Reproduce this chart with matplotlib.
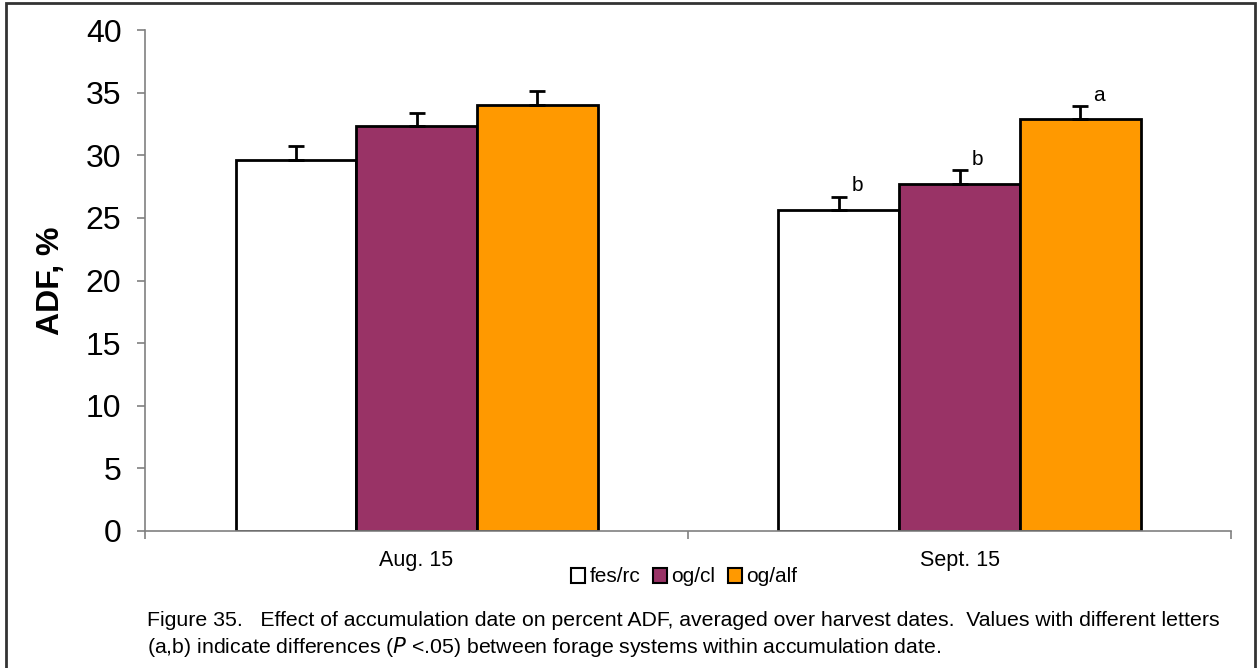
import matplotlib.pyplot as plt
import matplotlib.patches as mpatches
import numpy as np

plt.rcParams['font.family'] = ['Liberation Sans', 'DejaVu Sans']

# data
dates = ['Aug. 15', 'Sept. 15']
systems = ['fes/rc', 'og/cl', 'og/alf']
colors = ['#ffffff', '#993366', '#ff9900']
adf = {
    'fes/rc': [29.6, 25.6],
    'og/cl': [32.3, 27.7],
    'og/alf': [34.0, 32.9],
}
se = {
    'fes/rc': [1.1, 1.1],
    'og/cl': [1.1, 1.1],
    'og/alf': [1.1, 1.0],
}
letters = {
    'fes/rc': ['', 'b'],
    'og/cl': ['', 'b'],
    'og/alf': ['', 'a'],
}

fig = plt.figure(figsize=(12.58, 6.68), dpi=100)
ax = fig.add_axes([145/1258, 1 - 531/668, (1231 - 145)/1258, (531 - 30)/668])

x = np.arange(len(dates)) + 0.5
w = 2/9
for i, s in enumerate(systems):
    xs = x + (i - 1)*w
    ax.bar(xs, adf[s], w, color=colors[i], edgecolor='black', linewidth=2, zorder=2)
    ax.errorbar(xs, adf[s], yerr=[np.zeros(len(xs)), se[s]], fmt='none',
                ecolor='black', elinewidth=2, capsize=6, capthick=2, zorder=3)
    for j in range(len(xs)):
        if letters[s][j]:
            ax.annotate(letters[s][j], (xs[j], adf[s][j] + se[s][j]),
                        xytext=(9, 1), textcoords='offset points',
                        fontsize=15, ha='left', va='bottom')

ax.set_xlim(0, 2)
ax.set_ylim(0, 40)
ax.set_yticks(np.arange(0, 41, 5))
ax.tick_params(axis='y', labelsize=23, length=6, width=1.2, color='#808080', pad=11)
ax.set_xticks([0, 1, 2])
ax.set_xticklabels([])
ax.set_xticks(x, minor=True)
ax.set_xticklabels(dates, minor=True, fontsize=15.5)
ax.tick_params(axis='x', which='major', length=6, width=1.2, color='#808080')
ax.tick_params(axis='x', which='minor', length=0, pad=14)
for side in ['top', 'right']:
    ax.spines[side].set_visible(False)
for side in ['left', 'bottom']:
    ax.spines[side].set_color('#808080')
    ax.spines[side].set_linewidth(1.2)
ax.set_ylabel('ADF, %', fontsize=23, fontweight='bold', labelpad=14)

handles = [mpatches.Patch(facecolor=c, edgecolor='black', linewidth=1.5) for c in colors]
fig.legend(handles, systems, loc='center', bbox_to_anchor=(684/1258, 1 - 577/668),
           ncol=3, frameon=False, fontsize=15, handlelength=0.7, handleheight=0.7,
           handletextpad=0.2, columnspacing=0.6)

fig.text(147/1258, 1 - 620/668,
         'Figure 35.   Effect of accumulation date on percent ADF, averaged over harvest dates.  '
         'Values with different letters',
         fontsize=15.3, va='center', ha='left')
fig.text(147/1258, 1 - 647/668,
         '(a,b) indicate differences ($\\it{P}$ <.05) between forage systems within accumulation date.',
         fontsize=15.3, va='center', ha='left')

frame = mpatches.Rectangle((6/1258, -0.05), (1255 - 6)/1258, 1.05 - 3/668,
                           transform=fig.transFigure, fill=False,
                           edgecolor='#333333', linewidth=2)
fig.patches.append(frame)

fig.savefig('out.png', dpi=100)
